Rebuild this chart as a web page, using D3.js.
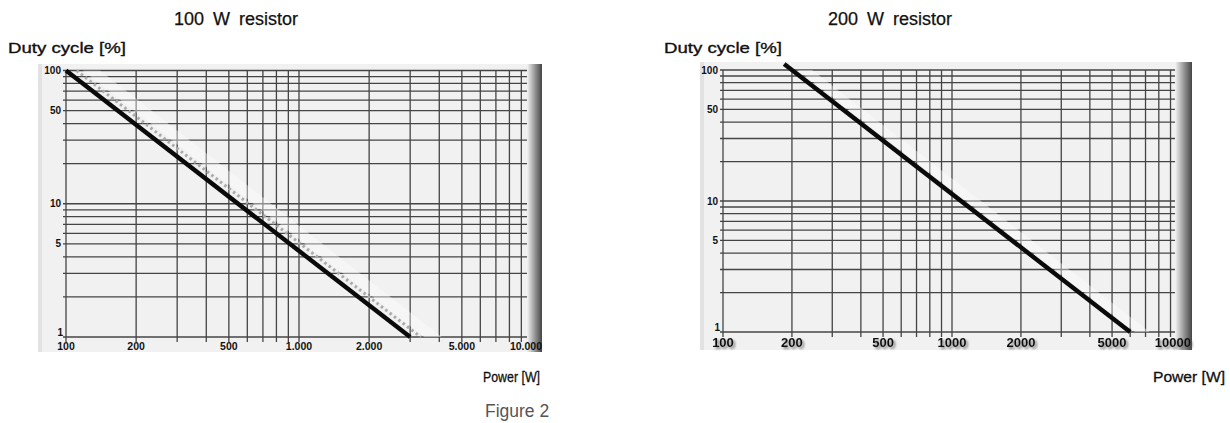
<!DOCTYPE html>
<html>
<head>
<meta charset="utf-8">
<script src="https://cdn.jsdelivr.net/npm/d3@7"></script>
<style>
  body { margin: 0; background: #fff; }
  svg { display: block; }
  text { font-family: "Liberation Sans", Arial, sans-serif; }
</style>
</head>
<body>
<svg id="chart" width="1230" height="423"></svg>
<script>
// chart values
const xTicks = [100, 200, 500, 1000, 2000, 5000, 10000];
const xLabels100 = ['100', '200', '500', '1.000', '2.000', '5.000', '10.000'];
const xLabels200 = ['100', '200', '500', '1000', '2000', '5000', '10000'];
const yTicks = [1, 5, 10, 50, 100];
const yLabels = ['1', '5', '10', '50', '100'];

// power [W] vs duty cycle [%]
const curve100 = [[100, 100], [3000, 1]];
const curve100Dotted = [[111, 100], [3330, 1]];
const band100 = [[118, 100], [3450, 1], [4100, 1], [140, 100]];
const curve200 = [[185, 111], [6000, 1]];
const band200 = [[212, 100], [6300, 1], [7300, 1], [245, 100]];

const svg = d3.select('#chart');
const defs = svg.append('defs');

const grad = defs.append('linearGradient').attr('id', 'edge').attr('x1', '0%').attr('x2', '100%');
grad.append('stop').attr('offset', '0%').attr('stop-color', '#f4f4f4');
grad.append('stop').attr('offset', '50%').attr('stop-color', '#9a9a9a');
grad.append('stop').attr('offset', '100%').attr('stop-color', '#444');

const shadow = defs.append('filter').attr('id', 'shadow')
    .attr('x', '-20%').attr('y', '-20%').attr('width', '150%').attr('height', '160%');
shadow.append('feDropShadow').attr('dx', 2).attr('dy', 2).attr('stdDeviation', 1.2)
    .attr('flood-color', '#555').attr('flood-opacity', 0.7);

/**
 *  one duty cycle chart
 */
function drawChart({ title, titleX, panel, xRange, yRange, labels, curve, dotted, band, labelSize, labelShadow, yLabelX, dutyX, powerX, powerW }) {
    const x = d3.scaleLog().domain([100, 10000]).range(xRange);
    const y = d3.scaleLog().domain([1, 100]).range(yRange);
    const line = d3.line().x(d => x(d[0])).y(d => y(d[1]));
    const g = svg.append('g');

    // titles
    g.append('text').attr('x', titleX).attr('y', 25).attr('text-anchor', 'middle')
        .attr('font-size', 18).attr('word-spacing', 4).attr('fill', '#111')
        .attr('stroke', '#111').attr('stroke-width', 0.25).text(title);
    g.append('text').attr('x', dutyX).attr('y', 53)
        .attr('font-size', 15).attr('textLength', 118).attr('lengthAdjust', 'spacingAndGlyphs')
        .attr('fill', '#111').attr('stroke', '#111').attr('stroke-width', 0.35).text('Duty cycle [%]');
    g.append('text').attr('x', powerX).attr('y', 382)
        .attr('font-size', 14.5).attr('textLength', powerW).attr('lengthAdjust', 'spacingAndGlyphs')
        .attr('fill', '#111').attr('stroke', '#111').attr('stroke-width', 0.3).text('Power [W]');

    // panel
    g.append('rect').attr('x', panel.x0).attr('y', panel.y0)
        .attr('width', panel.x1 - panel.x0).attr('height', panel.y1 - panel.y0)
        .attr('fill', '#f1f1f1');
    g.append('rect').attr('x', panel.x0).attr('y', panel.y0)
        .attr('width', 4).attr('height', panel.y1 - panel.y0).attr('fill', '#e2e2e2');

    const right = panel.g0;

    // grid
    g.append('g').selectAll('line').data(y.ticks()).join('line')
        .attr('x1', xRange[0] - 3).attr('x2', right)
        .attr('y1', d => y(d)).attr('y2', d => y(d))
        .attr('stroke', '#444').attr('stroke-width', 1.3);
    g.append('g').selectAll('line').data(x.ticks().filter(d => x(d) < right)).join('line')
        .attr('x1', d => x(d)).attr('x2', d => x(d))
        .attr('y1', yRange[1]).attr('y2', yRange[0] + 5)
        .attr('stroke', '#444').attr('stroke-width', 1.3);

    // light band beside the curve
    g.append('path').datum(band).attr('d', line)
        .attr('fill', '#fff').attr('opacity', 0.4);

    if (dotted) {
        g.append('path').datum(dotted).attr('d', line)
            .attr('fill', 'none').attr('stroke', '#aaa').attr('stroke-width', 3)
            .attr('stroke-dasharray', '2.5,3');
    }
    g.append('path').datum(curve).attr('d', line)
        .attr('fill', 'none').attr('stroke', '#0a0a0a').attr('stroke-width', 4.4);

    // dark right edge
    g.append('rect').attr('x', right).attr('y', panel.y0)
        .attr('width', panel.x1 - right).attr('height', panel.y1 - panel.y0)
        .attr('fill', 'url(#edge)');

    // x labels
    const xl = g.append('g').attr('transform', `translate(0,${yRange[0] + labelSize + 2})`);
    xl.selectAll('text').data(xTicks).join('text')
        .attr('x', (d, i) => i === xTicks.length - 1 ? Math.min(x(d) + 10, panel.x1) : x(d))
        .attr('text-anchor', (d, i) => i === xTicks.length - 1 ? 'end' : 'middle')
        .attr('font-size', labelSize).attr('font-weight', 'bold').attr('fill', '#111')
        .attr('filter', labelShadow ? 'url(#shadow)' : null)
        .text((d, i) => labels[i]);

    // y labels
    g.append('g').selectAll('text').data(yTicks).join('text')
        .attr('x', d => d === 1 ? yLabelX + 2 : yLabelX)
        .attr('y', d => d === 1 ? y(d) - 1 : y(d) + 3.5)
        .attr('text-anchor', 'end')
        .attr('font-size', 10).attr('font-weight', 'bold').attr('fill', '#111')
        .text((d, i) => yLabels[i]);
}

drawChart({
    title: '100 W resistor', titleX: 236,
    panel: { x0: 38, x1: 542, y0: 64, y1: 352, g0: 527 },
    xRange: [66, 532], yRange: [337, 70.5],
    labels: xLabels100, curve: curve100, dotted: curve100Dotted, band: band100,
    labelSize: 10.5, labelShadow: false, yLabelX: 61, dutyX: 8, powerX: 483, powerW: 57
});

drawChart({
    title: '200 W resistor', titleX: 890,
    panel: { x0: 700, x1: 1192, y0: 62, y1: 350, g0: 1175 },
    xRange: [723, 1181], yRange: [332, 70],
    labels: xLabels200, curve: curve200, dotted: null, band: band200,
    labelSize: 13, labelShadow: true, yLabelX: 718, dutyX: 664, powerX: 1153, powerW: 72
});

svg.append('text').attr('x', 485).attr('y', 417)
    .attr('font-size', 17.5).attr('fill', '#555').text('Figure 2');
</script>
</body>
</html>
